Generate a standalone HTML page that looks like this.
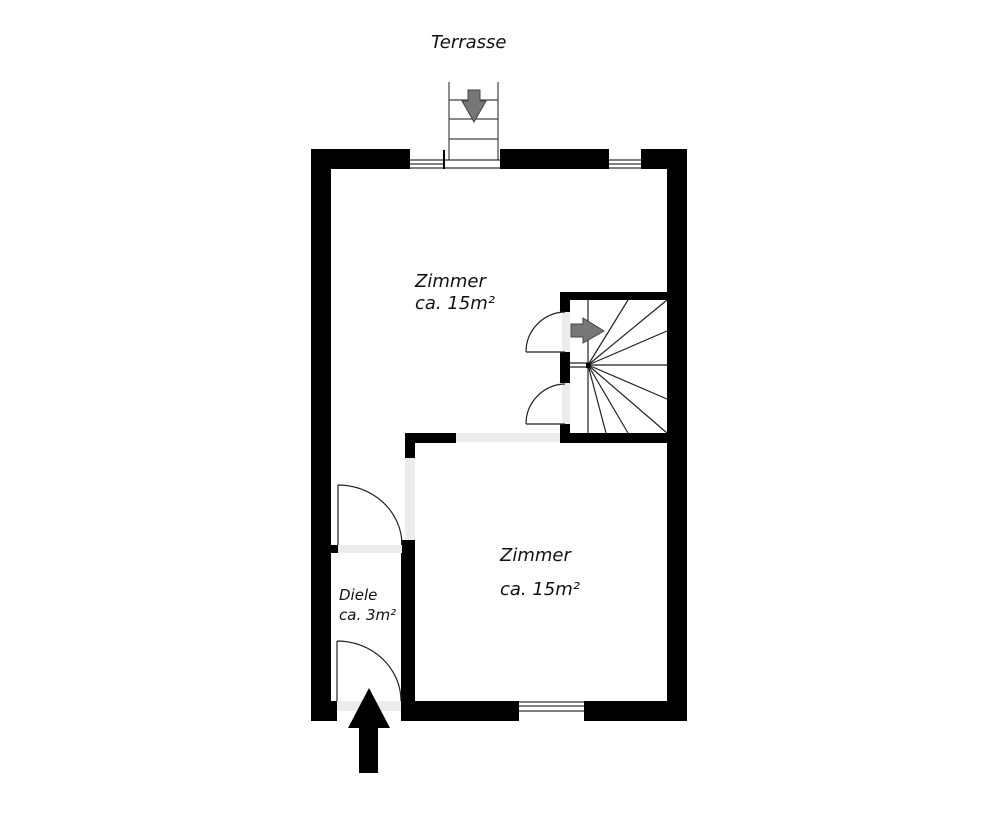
<!DOCTYPE html>
<html><head><meta charset="utf-8"><style>
html,body{margin:0;padding:0;background:#fff;}
svg{display:block;}
text{font-family:"DejaVu Sans","Liberation Sans",sans-serif;font-style:italic;fill:#111;}
</style></head><body>
<svg width="1000" height="836" viewBox="0 0 1000 836" xmlns="http://www.w3.org/2000/svg">
<rect width="1000" height="836" fill="#fff"/>
<text x="431" y="48" font-size="18">Terrasse</text>
<g stroke="#444" stroke-width="1.2" fill="none">
<line x1="449" y1="82" x2="449" y2="160"/><line x1="498" y1="82" x2="498" y2="160"/>
<line x1="449" y1="100" x2="498" y2="100"/><line x1="449" y1="119" x2="498" y2="119"/><line x1="449" y1="139" x2="498" y2="139"/>
</g>
<polygon points="468,90 480,90 480,101 486,101 474,122 462,101 468,101" fill="#777" stroke="#444" stroke-width="1"/>
<g fill="#000">
<rect x="311" y="149" width="99" height="20"/>
<rect x="500" y="149" width="109" height="20"/>
<rect x="641" y="149" width="46" height="20"/>
<rect x="311" y="149" width="20" height="572"/>
<rect x="667" y="149" width="20" height="572"/>
<rect x="311" y="701" width="26" height="20"/>
<rect x="401" y="701" width="118" height="20"/>
<rect x="584" y="701" width="103" height="20"/>
<rect x="401" y="540" width="14" height="161"/>
<rect x="405" y="433" width="51" height="10"/>
<rect x="405" y="433" width="10" height="25"/>
<rect x="331" y="545" width="7" height="8"/>
<rect x="560" y="292" width="107" height="8"/>
<rect x="560" y="433" width="107" height="10"/>
<rect x="560" y="292" width="10" height="20"/>
<rect x="560" y="352" width="10" height="31"/>
<rect x="560" y="424" width="10" height="19"/>
</g>
<g fill="#ececec">
<rect x="456" y="433" width="104" height="9"/>
<rect x="405" y="458" width="10" height="82"/>
<rect x="338" y="545" width="64" height="8"/>
<rect x="337" y="701" width="64" height="10"/>
<rect x="562" y="312" width="8" height="40"/>
<rect x="562" y="383" width="8" height="41"/>
</g>
<g stroke="#000" stroke-width="1" fill="none">
<line x1="410" y1="160" x2="445" y2="160"/><line x1="410" y1="164" x2="445" y2="164"/><line x1="410" y1="168" x2="500" y2="168"/>
<line x1="445" y1="160" x2="500" y2="160"/>
<line x1="609" y1="160" x2="641" y2="160"/><line x1="609" y1="164" x2="641" y2="164"/><line x1="609" y1="168" x2="641" y2="168"/>
<line x1="519" y1="702" x2="584" y2="702"/><line x1="519" y1="706" x2="584" y2="706"/><line x1="519" y1="711" x2="584" y2="711"/>
</g>
<rect x="443" y="150" width="2" height="19" fill="#000"/>
<g stroke="#222" stroke-width="1.2" fill="none">
<path d="M338,485 L338,545 M338,485 A64,60 0 0 1 402,545"/>
<path d="M337,641 L337,701 M337,641 A64,60 0 0 1 401,701"/>
<path d="M565,352 L526,352 M565,312 A40,40 0 0 0 526,352"/>
<path d="M565,424 L526,424 M565,384 A40,40 0 0 0 526,424"/>
</g>
<g stroke="#222" stroke-width="1.2" fill="none">
<line x1="588" y1="300" x2="588" y2="433"/>
<line x1="570" y1="363" x2="588" y2="363"/><line x1="570" y1="367" x2="588" y2="367"/>
<line x1="588" y1="365" x2="628" y2="300"/>
<line x1="588" y1="365" x2="667" y2="300"/>
<line x1="588" y1="365" x2="667" y2="331"/>
<line x1="588" y1="365" x2="667" y2="365"/>
<line x1="588" y1="365" x2="667" y2="399"/>
<line x1="588" y1="365" x2="667" y2="433"/>
<line x1="588" y1="365" x2="628" y2="433"/>
<line x1="588" y1="365" x2="606" y2="433"/>
</g>
<rect x="586" y="363" width="4" height="5" fill="#000"/>
<polygon points="571,324 583,324 583,318 604,331 583,343 583,337 571,337" fill="#777" stroke="#444" stroke-width="1"/>
<polygon points="369,688 390,728 378,728 378,773 359,773 359,728 348,728" fill="#000"/>
<text x="415" y="287" font-size="18">Zimmer</text>
<text x="415" y="309" font-size="18">ca. 15m²</text>
<text x="500" y="561" font-size="18">Zimmer</text>
<text x="500" y="595" font-size="18">ca. 15m²</text>
<text x="339" y="600" font-size="15">Diele</text>
<text x="339" y="620" font-size="15">ca. 3m²</text>
</svg>
</body></html>
